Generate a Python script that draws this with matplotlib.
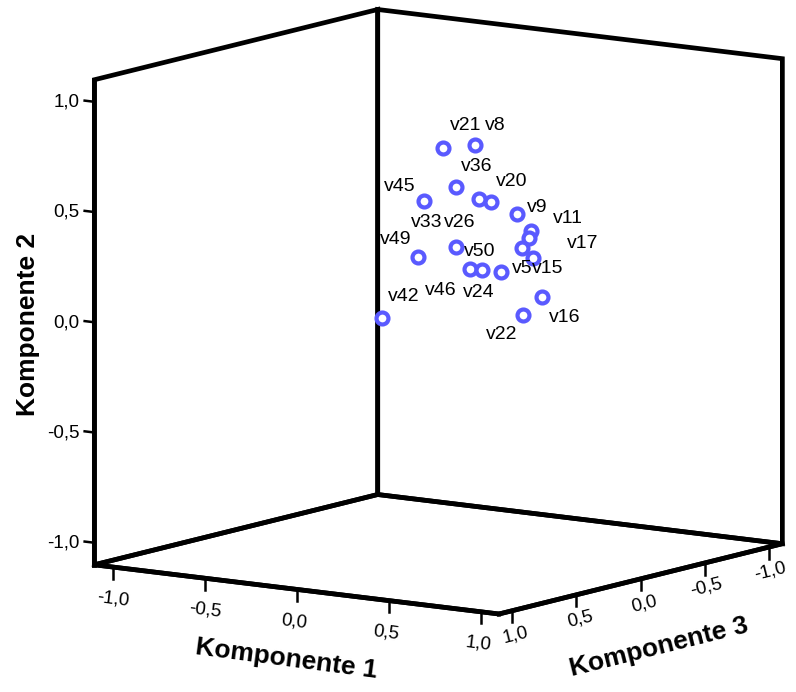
import numpy as np
import matplotlib
matplotlib.use('Agg')
import matplotlib.pyplot as plt
from matplotlib.ticker import FuncFormatter
from mpl_toolkits.mplot3d import proj3d

plt.rcParams['font.family'] = ['Liberation Sans', 'DejaVu Sans']

# Ladungen der Variablen auf den drei Komponenten
names = ['v21', 'v8', 'v36', 'v45', 'v20', 'v26', 'v9', 'v11', 'v17', 'v33',
         'v49', 'v50', 'v46', 'v24', 'v5', 'v15', 'v16', 'v22', 'v42']
komp1 = [0.200, 0.305, 0.307, 0.202, 0.427, 0.467, 0.499, 0.540, 0.599, 0.342,
         0.240, 0.383, 0.413, 0.482, 0.666, 0.656, 0.635, 0.672, 0.113]
komp2 = [0.800, 0.810, 0.640, 0.580, 0.570, 0.610, 0.510, 0.430, 0.418, 0.380,
         0.345, 0.276, 0.267, 0.257, 0.401, 0.340, 0.144, 0.095, 0.072]
komp3 = [0.25, 0.15, 0.30, 0.40, 0.20, 0.35, 0.10, 0.05, 0.15, 0.35,
         0.50, 0.30, 0.25, 0.20, 0.30, 0.20, 0.10, 0.30, 0.60]
ticks = [-1.0, -0.5, 0.0, 0.5, 1.0]

# Versatz der Beschriftungen in Pixeln (x nach rechts, y nach unten)
label_shift = {'v21': (23, -22), 'v8': (20, -19), 'v36': (21, -21), 'v45': (-24, -15),
               'v20': (21, -21), 'v26': (-19, 24), 'v9': (20, -6), 'v11': (37, -12),
               'v17': (53, 6), 'v33': (-29, -24), 'v49': (-22, -18), 'v50': (10, -18),
               'v46': (-41, 20), 'v24': (-23, 20), 'v5': (0, 21), 'v15': (14, 11),
               'v16': (22, 20), 'v22': (-22, 19), 'v42': (22, -21)}

fig = plt.figure(figsize=(7.96, 6.92), dpi=100)
ax = fig.add_axes([0.1043, 0.036, 0.8693, 1.0], projection='3d', computed_zorder=False)
ax.set_proj_type('ortho')
ax.view_init(elev=10, azim=-55)
ax.set_box_aspect((1, 1, 0.997), zoom=1.1992)
ax.set_xlim(-1.1, 1.1)
ax.set_ylim(1.1, -1.1)
ax.set_zlim(-1.1, 1.1)
ax.grid(False)

fmt = FuncFormatter(lambda v, p: f'{v:.1f}'.replace('.', ','))
for axis in (ax.xaxis, ax.yaxis, ax.zaxis):
    axis.set_pane_color((1, 1, 1, 0))
    axis.pane.set_alpha(None)
    axis.pane.set_closed(True)
    axis.pane.set_facecolor((1, 1, 1, 0))
    axis.pane.set_edgecolor('black')
    axis.pane.set_linewidth(3.4)
    axis.pane.set_joinstyle('miter')
    axis.line.set_color('black')
    axis.line.set_linewidth(3.4)
    axis.set_ticks(ticks)
    axis.set_major_formatter(fmt)
    axis._axinfo['tick']['inward_factor'] = 0.0
    axis._axinfo['tick']['outward_factor'] = 0.3
    axis._axinfo['tick']['linewidth'] = {True: 1.8, False: 1.0}

# Achse 2 links, Ticks von K1 und K3 senkrecht nach unten
ax.zaxis.set_ticks_position('upper')
ax.zaxis.set_label_position('upper')
ax.xaxis._get_tickdir = lambda *a: 2
ax.yaxis._get_tickdir = lambda *a: 2

ax.tick_params(axis='x', labelsize=13.5, pad=7, labelrotation=-7, colors='black')
ax.tick_params(axis='y', labelsize=13.5, pad=4, labelrotation=14, colors='black')
ax.tick_params(axis='z', labelsize=13.5, pad=-2.5, colors='black')
for t in ax.xaxis.get_major_ticks():
    t.label1.set_ha('left')
    t.label1.set_va('center')
for t in ax.yaxis.get_major_ticks():
    t.label1.set_ha('right')
    t.label1.set_va('center')
for t in ax.zaxis.get_major_ticks():
    t.label1.set_ha('right')
    t.label1.set_va('center')

ax.set_zlabel('Komponente 2', fontsize=19, fontweight='bold', labelpad=4)
fig.text(0.360, 0.047, 'Komponente 1', fontsize=19, fontweight='bold',
         ha='center', va='center', rotation=-7.5, rotation_mode='anchor')
fig.text(0.828, 0.065, 'Komponente 3', fontsize=19, fontweight='bold',
         ha='center', va='center', rotation=14, rotation_mode='anchor')

ax.plot(komp1, komp3, komp2, linestyle='none', marker='o', markersize=8.6,
        markerfacecolor='white', markeredgecolor='#5a5aff', markeredgewidth=3.0)

# Punktbeschriftungen in der projizierten Ebene
px, py, _ = proj3d.proj_transform(np.array(komp1), np.array(komp3),
                                  np.array(komp2), ax.get_proj())
for n, x2, y2 in zip(names, px, py):
    dx, dy = label_shift[n]
    ax.annotate(n, xy=(x2, y2), xytext=(dx, -dy), textcoords='offset pixels',
                fontsize=14, ha='center', va='center')

plt.savefig('out.png', dpi=100, facecolor='white')
plt.close()
